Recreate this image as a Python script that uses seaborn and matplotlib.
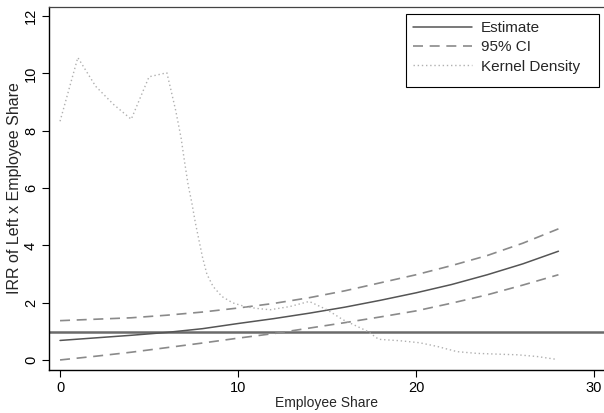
import matplotlib
matplotlib.use("Agg")
import matplotlib.pyplot as plt
from matplotlib.patches import Rectangle
import seaborn as sns
import pandas as pd

# values
share = [0, 2, 4, 6, 8, 10, 12, 14, 16, 18, 20, 22, 24, 26, 28]
estimate = [0.69, 0.78, 0.87, 0.97, 1.10, 1.28, 1.45, 1.64, 1.85, 2.09, 2.35, 2.64, 2.98, 3.36, 3.80]
ci_upper = [1.38, 1.43, 1.48, 1.57, 1.68, 1.82, 1.98, 2.18, 2.42, 2.70, 2.98, 3.30, 3.65, 4.08, 4.58]
ci_lower = [0.01, 0.14, 0.28, 0.44, 0.60, 0.77, 0.93, 1.12, 1.31, 1.51, 1.72, 1.99, 2.28, 2.62, 2.98]

dens_x = [0, 1, 2, 3, 4, 5, 6, 6.2, 6.5, 6.8, 7.0, 7.2, 7.4, 7.6, 7.8, 8.0, 8.25, 8.6,
          9.1, 9.7, 10.4, 11.0, 11.8, 12.9, 14.0, 15.0, 15.9, 16.9, 17.3, 17.9, 19.1,
          20.2, 21.2, 22.3, 23.4, 24.7, 25.7, 26.8, 27.9]
dens_y = [8.33, 10.55, 9.55, 8.92, 8.40, 9.88, 10.02, 9.5, 8.7, 7.75, 6.9, 6.1, 5.5, 4.8,
          4.2, 3.6, 3.0, 2.57, 2.22, 2.0, 1.87, 1.81, 1.76, 1.87, 2.05, 1.76, 1.41, 1.12,
          1.0, 0.73, 0.68, 0.61, 0.48, 0.30, 0.24, 0.21, 0.19, 0.13, 0.03]

ref_level = 1
xticks = [0, 10, 20, 30]
yticks = [0, 2, 4, 6, 8, 10, 12]

sns.set_theme(style="ticks")
plt.rcParams["font.family"] = ["Liberation Sans", "DejaVu Sans"]

df = pd.DataFrame({"share": share, "est": estimate, "hi": ci_upper, "lo": ci_lower})
dens = pd.DataFrame({"x": dens_x, "y": dens_y})

W, H = 604, 413
fig = plt.figure(figsize=(W / 100, H / 100), dpi=100)
ax = fig.add_axes([49 / W, 43 / H, 1 - 49 / W, (370 - 6.5) / H])

ax.axhline(ref_level, color="#6a6a6a", lw=1.8, zorder=1)
sns.lineplot(data=df, x="share", y="est", ax=ax, color="#555555", lw=1.1, label="Estimate")
sns.lineplot(data=df, x="share", y="hi", ax=ax, color="#8a8a8a", lw=1.2,
             linestyle=(0, (6, 4)), label="95% CI")
sns.lineplot(data=df, x="share", y="lo", ax=ax, color="#8a8a8a", lw=1.2,
             linestyle=(0, (6, 4)), label="_nolegend_")
sns.lineplot(data=dens, x="x", y="y", ax=ax, color="#b0b0b0", lw=1.0,
             linestyle=(0, (1, 2)), label="Kernel Density", sort=False)

ax.set_xlim(-0.62, 30.56)
ax.set_ylim(-0.34, 12.33)
ax.set_xticks(xticks)
ax.set_yticks(yticks)
ax.set_yticklabels([str(t) for t in yticks], rotation=90, va="center")
ax.tick_params(axis="both", labelsize=10.5, length=5, width=0.8, colors="black", pad=3)
ax.set_xlabel("Employee Share", fontsize=10, labelpad=1)
ax.set_ylabel("IRR of Left x Employee Share", fontsize=11.5)
ax.yaxis.set_label_coords((22 - 49) / (W - 49), 0.5)

for side in ["left", "bottom"]:
    ax.spines[side].set_color("black")
    ax.spines[side].set_linewidth(1.0)
ax.spines["top"].set_color("#444444")
ax.spines["top"].set_linewidth(0.9)
ax.spines["right"].set_visible(False)

# legend entries without frame, box drawn separately (extra right padding)
ax.legend(loc="upper left", bbox_to_anchor=(406 / W, (H - 14) / H),
          bbox_transform=fig.transFigure, borderaxespad=0, fontsize=11,
          frameon=False, handlelength=3.9, handletextpad=0.55,
          labelspacing=0.35, borderpad=0.45)
fig.patches.append(Rectangle((406 / W, (H - 87) / H), (599 - 406) / W, 73 / H,
                             transform=fig.transFigure, fill=False,
                             edgecolor="black", lw=0.8, zorder=5))

fig.savefig("out.png", dpi=100)
